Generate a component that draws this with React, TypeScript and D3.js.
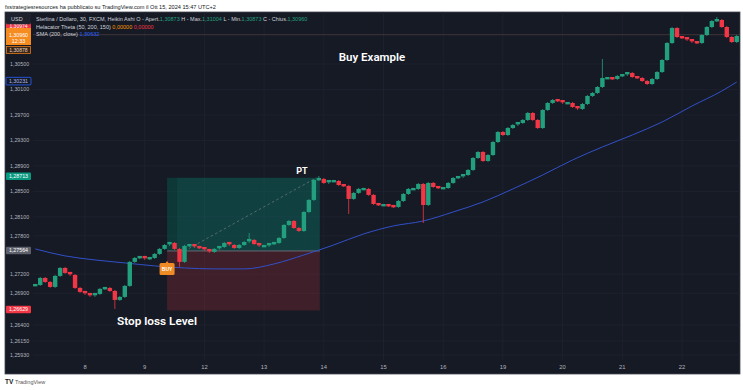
import * as d3 from "d3";

// 2h closes (GBP/USD), starting ~10 bars before day 8
const CLOSES = [
  1.27030, 1.27140, 1.27077, 1.26999, 1.27172, 1.27297, 1.27219, 1.27187, 1.26983, 1.26921,
  1.26889, 1.26858, 1.26889, 1.26968, 1.26983, 1.26936, 1.26795, 1.26842, 1.27015, 1.27392,
  1.27454, 1.27470, 1.27439, 1.27454, 1.27517, 1.27596, 1.27658, 1.27690, 1.27596, 1.27392,
  1.27643, 1.27658, 1.27627, 1.27611, 1.27580, 1.27549, 1.27596, 1.27627, 1.27690, 1.27658,
  1.27611, 1.27658, 1.27705, 1.27737, 1.27674, 1.27643, 1.27643, 1.27674, 1.27690, 1.27768,
  1.27972, 1.28035, 1.27925, 1.27878, 1.28176, 1.28365, 1.28679, 1.28695, 1.28632, 1.28663,
  1.28663, 1.28600, 1.28585, 1.28381, 1.28475, 1.28538, 1.28538, 1.28444, 1.28302, 1.28286,
  1.28286, 1.28271, 1.28255, 1.28349, 1.28459, 1.28538, 1.28538, 1.28616, 1.28286, 1.28632,
  1.28569, 1.28553, 1.28553, 1.28632, 1.28710, 1.28726, 1.28757, 1.28836, 1.29024, 1.29118,
  1.28977, 1.29071, 1.29275, 1.29432, 1.29385, 1.29495, 1.29542, 1.29574, 1.29621, 1.29731,
  1.29621, 1.29495, 1.29778, 1.29888, 1.29935, 1.29919, 1.29888, 1.29888, 1.29825, 1.29794,
  1.29872, 1.29998, 1.30045, 1.30139, 1.30280, 1.30280, 1.30265, 1.30312, 1.30327, 1.30359,
  1.30296, 1.30280, 1.30233, 1.30186, 1.30265, 1.30374, 1.30563, 1.30830, 1.31065, 1.30924,
  1.30908, 1.30877, 1.30845, 1.30830, 1.30955, 1.31081, 1.31175, 1.31191, 1.31081, 1.30924,
  1.30845, 1.30940,
];
const FIRST_BAR = -10; // bar offset of CLOSES[0] relative to start of day 8

// notable wicks
const WICKS = [
  { i: 16, low: 1.26669 },
  { i: 29, low: 1.27329 },
  { i: 43, high: 1.27831 },
  { i: 57, high: 1.28726 },
  { i: 63, low: 1.28161 },
  { i: 78, low: 1.28019 },
  { i: 114, high: 1.30563 },
  { i: 137, high: 1.31222 },
];

// SMA(200) sampled every 6 bars
const SMA_BARS = [0, 6, 12, 18, 24, 30, 36, 42, 48, 54, 60, 66, 72, 78, 84, 90, 96, 102, 108, 114, 120, 126, 132, 138, 141];
const SMA_VALUES = [
  1.27596, 1.27486, 1.27423, 1.27376, 1.27329, 1.27297, 1.27282, 1.27282, 1.27360, 1.27501,
  1.27658, 1.27831, 1.27957, 1.28035, 1.28176, 1.28334, 1.28538, 1.28757, 1.28993, 1.29197,
  1.29385, 1.29589, 1.29840, 1.30076, 1.30217,
];

const DAYS = ["8", "9", "12", "13", "14", "15", "16", "19", "20", "21", "22"];
const PRICE_TICKS = [1.305, 1.301, 1.297, 1.293, 1.289, 1.285, 1.281, 1.278, 1.272, 1.269, 1.264, 1.2615, 1.2593];

const ENTRY = 1.27564;
const TARGET = 1.28713;
const STOP = 1.26629;
const POS_START = 26.5; // bar index
const POS_END = 57.2;
const LAST = 1.30960;
const SMA_LAST = 1.30231;

const UP = "#22a07e";
const DOWN = "#f23645";
const BG = "#161a25";
const GRID = "#1f2330";
const AXIS_TEXT = "#b2b5be";
const FONT = "'Liberation Sans', Arial, sans-serif";

const fmt = (v: number) => d3.format(".5f")(v).replace(".", ",");

export default function App() {
  const W = 743, H = 390;
  const left = 33, right = 740, top = 12, bottom = 374;

  const x = d3.scaleLinear().domain([0, 120]).range([85, 682]);
  const y = d3.scaleLinear().domain([1.2593, 1.305]).range([355, 64]);
  const bx = (i: number) => x(i + FIRST_BAR);

  const candles = CLOSES.map((c, i) => {
    const o = i === 0 ? c : CLOSES[i - 1];
    const w = WICKS.find((k) => k.i === i);
    const hi = Math.max(o, c, w?.high ?? 0);
    const lo = Math.min(o, c, w?.low ?? 9);
    return { i, o, c, hi, lo, up: c >= o };
  });

  const smaLine = d3
    .line<number>()
    .x((_, k) => bx(SMA_BARS[k]))
    .y((d) => y(d))
    .curve(d3.curveMonotoneX)(SMA_VALUES) as string;

  const bodyW = 4.4;
  const px0 = bx(POS_START), px1 = bx(POS_END);

  const badge = (cy: number, text: string, fill: string, color = "#fff", stroke?: string) => (
    <g>
      <rect x={6} y={cy - 3.8} width={25} height={7.6} rx={1} fill={fill} stroke={stroke} strokeWidth={stroke ? 0.8 : 0} />
      <text x={18.5} y={cy + 1.9} textAnchor="middle" fontSize={5.3} fill={color}>{text}</text>
    </g>
  );

  return (
    <svg width={W} height={H} style={{ position: "absolute", left: 0, top: 0 }} fontFamily={FONT}>
      <rect width={W} height={H} fill="#fff" />
      <text x={5} y={8.5} fontSize={5.6} fill="#131722">
        fxstrategiesresources ha pubblicato su TradingView.com il Ott 15, 2024 15:47 UTC+2
      </text>

      {/* panel */}
      <rect x={5} y={top} width={right - 5} height={bottom - top} fill={BG} stroke="#434651" strokeWidth={0.8} />
      <defs>
        <clipPath id="plot">
          <rect x={left} y={top} width={right - left} height={360 - top} />
        </clipPath>
      </defs>

      {/* grid */}
      {PRICE_TICKS.map((p) => (
        <line key={p} x1={left} x2={right} y1={y(p)} y2={y(p)} stroke={GRID} strokeWidth={0.8} />
      ))}
      {DAYS.map((d, k) => (
        <line key={d} x1={x(k * 12)} x2={x(k * 12)} y1={top} y2={360} stroke={GRID} strokeWidth={0.8} />
      ))}

      <g clipPath="url(#plot)">
        {/* last price line */}
        <line x1={left} x2={right} y1={y(LAST)} y2={y(LAST)} stroke="#4d3c3e" strokeWidth={0.8} />

        {/* long position tool */}
        <rect x={px0} y={y(TARGET)} width={px1 - px0} height={y(ENTRY) - y(TARGET)} fill="rgba(8,153,129,0.3)" />
        <rect x={px0} y={y(TARGET)} width={bx(28.5) - px0} height={y(ENTRY) - y(TARGET)} fill="rgba(0,0,0,0.12)" />
        <rect x={px0} y={y(ENTRY)} width={px1 - px0} height={y(STOP) - y(ENTRY)} fill="rgba(242,54,69,0.18)" />
        <line x1={px0} x2={px1} y1={y(ENTRY)} y2={y(ENTRY)} stroke="#787b86" strokeWidth={0.8} />
        <line x1={bx(30)} y1={y(ENTRY)} x2={bx(56.5)} y2={y(TARGET)} stroke="#9598a1" strokeWidth={0.7} strokeDasharray="2.5,2.5" opacity={0.7} />

        {/* SMA */}
        <path d={smaLine} fill="none" stroke="#3150c8" strokeWidth={1} />

        {/* candles */}
        {candles.map((k) => {
          const cx = bx(k.i);
          const yt = y(Math.max(k.o, k.c));
          const h = Math.max(2.4, y(Math.min(k.o, k.c)) - yt);
          const col = k.up ? UP : DOWN;
          return (
            <g key={k.i}>
              <line x1={cx} x2={cx} y1={y(k.hi) - 1} y2={y(k.lo) + 1} stroke={col} strokeWidth={0.8} />
              <rect x={cx - bodyW / 2} y={yt - (h > 2.4 ? 0 : 1)} width={bodyW} height={h} fill={col} />
            </g>
          );
        })}
      </g>

      {/* BUY tag */}
      <g transform={`translate(${px0},${y(ENTRY) + 12})`}>
        <path d="M-1.5,0 L0,-2 L1.5,0 Z" fill="#f08a24" />
        <rect x={-7.5} y={0} width={15} height={12} rx={1.5} fill="#f08a24" />
        <text x={0} y={7.8} textAnchor="middle" fontSize={5} fontWeight="bold" fill="#fff">BUY</text>
      </g>

      {/* annotations */}
      <text x={372} y={61} textAnchor="middle" fontSize={11.5} fontWeight={600} fill="#fff" fontFamily="Roboto, sans-serif">Buy Example</text>
      <text x={302} y={174} textAnchor="middle" fontSize={9} fontWeight={700} fill="#fff" fontFamily="Roboto, sans-serif">PT</text>
      <text x={157} y={325} textAnchor="middle" fontSize={11.8} fontWeight={600} fill="#fff" fontFamily="Roboto, sans-serif">Stop loss Level</text>

      {/* price axis labels */}
      {PRICE_TICKS.map((p) => (
        <text key={p} x={10} y={y(p) + 1.9} fontSize={5.3} fill={AXIS_TEXT}>{fmt(p)}</text>
      ))}
      {badge(y(SMA_LAST), fmt(SMA_LAST), BG, "#aeb8e8", "#2962ff")}
      {badge(y(TARGET) - 1.5, fmt(TARGET), "#089981")}
      {badge(y(ENTRY) - 0.5, fmt(ENTRY), "#5d606b")}
      {badge(y(STOP) - 1, fmt(STOP), DOWN)}

      {/* top-left axis badges */}
      <rect x={6} y={23.5} width={25} height={6} fill={DOWN} />
      <text x={18.5} y={28} textAnchor="middle" fontSize={5} fill="#fff">1,30974</text>
      <rect x={6} y={28} width={25} height={17} fill="#f68b1f" />
      <text x={18.5} y={36.5} textAnchor="middle" fontSize={5.3} fill="#fff">{fmt(LAST)}</text>
      <text x={18.5} y={43} textAnchor="middle" fontSize={5.3} fill="#fff">12:33</text>
      <rect x={6.5} y={46.5} width={24} height={7} fill="#3a2616" stroke="#e07b20" strokeWidth={0.8} />
      <text x={18.5} y={51.9} textAnchor="middle" fontSize={5.1} fill="#e6d2c0">1,30878</text>
      <rect x={7} y={14} width={23} height={10} fill="#1e222d" stroke="#2a2e39" strokeWidth={0.6} />
      <text x={11} y={21} fontSize={5.5} fill="#d1d4dc">USD</text>

      {/* legend */}
      <text x={36} y={21} fontSize={5.5} fill="#d1d4dc">
        Sterlina / Dollaro, 30, FXCM, Heikin Ashi{"  "}O - Apert.<tspan fill={UP}>1,30873</tspan>{"  "}H - Max.<tspan fill={UP}>1,31004</tspan>{"  "}L - Min.<tspan fill={UP}>1,30873</tspan>{"  "}C - Chius.<tspan fill={UP}>1,30960</tspan>
      </text>
      <text x={36} y={28.5} fontSize={5.5} fill="#d1d4dc">
        Helacator Theta (50, 200, 150){"  "}<tspan fill="#ff9800">0,00000</tspan>{"  "}<tspan fill={DOWN}>0,00000</tspan>
      </text>
      <text x={36} y={36} fontSize={5.5} fill="#d1d4dc">
        SMA (200, close){"  "}<tspan fill="#2962ff">1,30632</tspan>
      </text>

      {/* time axis */}
      {DAYS.map((d, k) => (
        <text key={d} x={x(k * 12)} y={369} textAnchor="middle" fontSize={5.8} fill={AXIS_TEXT}>{d}</text>
      ))}

      {/* footer logo */}
      <text x={5} y={384} fontSize={6.5} fontWeight="bold" fill="#131722">TV</text>
      <text x={15} y={384} fontSize={5.5} fill="#555">TradingView</text>
    </svg>
  );
}
